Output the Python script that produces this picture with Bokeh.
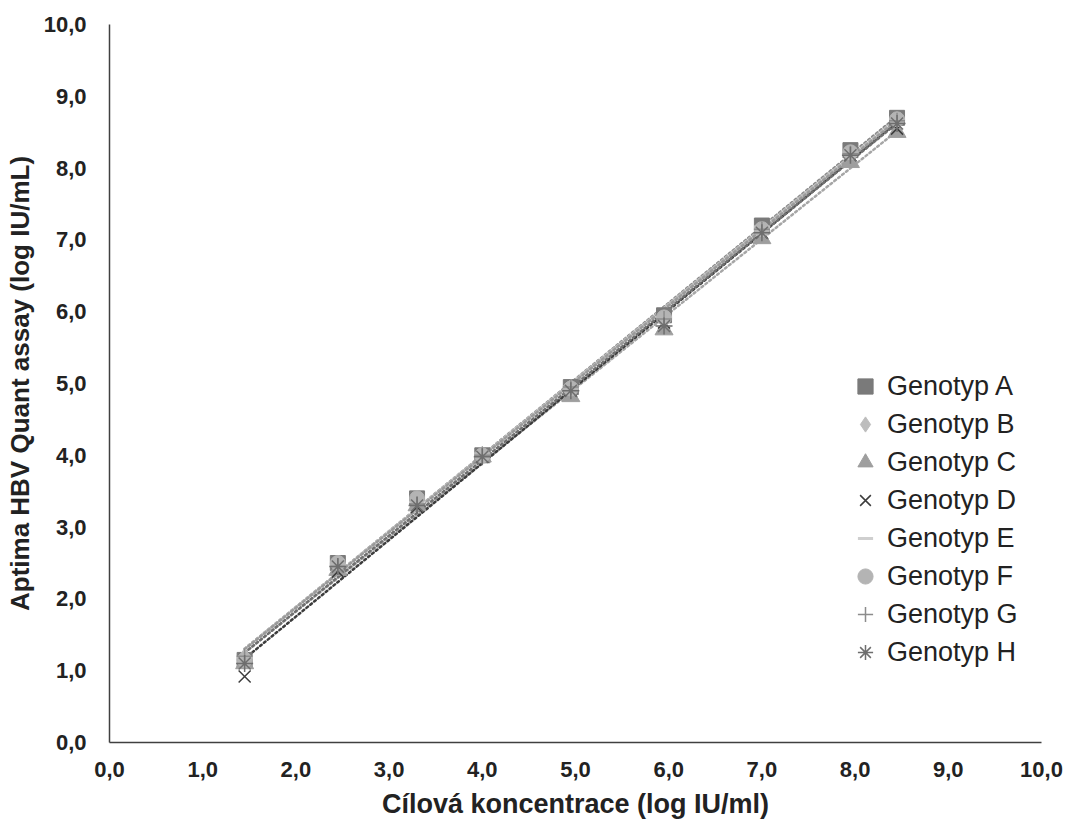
import numpy as np
from bokeh.plotting import figure
from bokeh.models import Legend, LegendItem, FixedTicker
from bokeh.embed import file_html
from bokeh.resources import INLINE

# ---- data ----
concentration = [1.45, 2.45, 3.3, 4.0, 4.95, 5.95, 7.0, 7.95, 8.45]
genotype_names = ["Genotyp A", "Genotyp B", "Genotyp C", "Genotyp D",
                  "Genotyp E", "Genotyp F", "Genotyp G", "Genotyp H"]
geno_a = [1.15, 2.50, 3.40, 4.00, 4.95, 5.95, 7.20, 8.25, 8.70]
geno_b = [1.20, 2.45, 3.35, 4.00, 4.95, 5.90, 7.15, 8.20, 8.65]
geno_c = [1.10, 2.40, 3.30, 3.98, 4.82, 5.75, 7.02, 8.08, 8.50]
geno_d = [0.92, 2.38, 3.28, 3.98, 4.90, 5.85, 7.10, 8.18, 8.55]
geno_e = [1.18, 2.48, 3.35, 4.02, 4.95, 5.92, 7.18, 8.22, 8.68]
geno_f = [1.15, 2.50, 3.40, 4.00, 4.93, 5.92, 7.15, 8.22, 8.68]
geno_g = [1.20, 2.45, 3.32, 4.00, 4.95, 5.90, 7.15, 8.20, 8.66]
geno_h = [1.10, 2.45, 3.30, 3.98, 4.90, 5.80, 7.10, 8.18, 8.62]
tick_values = [0, 1, 2, 3, 4, 5, 6, 7, 8, 9, 10]
tick_labels = ["0,0", "1,0", "2,0", "3,0", "4,0", "5,0", "6,0", "7,0", "8,0", "9,0", "10,0"]

series = [geno_a, geno_b, geno_c, geno_d, geno_e, geno_f, geno_g, geno_h]
markers = ["square", "diamond", "triangle", "x", "dash", "circle", "cross", "asterisk"]
colors = ["#7a7a7a", "#bdbdbd", "#9e9e9e", "#3c3c3c", "#cfcfcf", "#b4b4b4", "#8c8c8c", "#6e6e6e"]
line_colors = ["#8a8a8a", "#bdbdbd", "#a6a6a6", "#3c3c3c", "#c8c8c8", "#b4b4b4", "#9a9a9a", "#707070"]
sizes = [15, 16, 18, 17, 16, 15, 16, 17]

FONT = "Liberation Sans"

p = figure(width=1076, height=823, x_range=(0, 10), y_range=(0, 10),
           output_backend="svg", toolbar_location=None,
           min_border_left=109, min_border_right=35,
           min_border_top=24, min_border_bottom=81)
p.outline_line_color = None
p.xgrid.visible = False
p.ygrid.visible = False

xs = np.array(concentration)
items = []
for name, ys, mk, col, lc, sz in zip(genotype_names, series, markers, colors, line_colors, sizes):
    ys = np.array(ys)
    k, b = np.polyfit(xs, ys, 1)
    p.line([xs.min(), xs.max()], [k * xs.min() + b, k * xs.max() + b],
           line_color=lc, line_width=2.5, line_dash="2 3", line_cap="round")

for name, ys, mk, col, lc, sz in zip(genotype_names, series, markers, colors, line_colors, sizes):
    lw = 1.5 if mk in ("x", "cross", "asterisk") else (3 if mk == "dash" else 1)
    r = p.scatter(concentration, ys, marker=mk, size=sz, fill_color=col,
                  line_color=col, line_width=lw)
    items.append(LegendItem(label=name, renderers=[r]))

legend = Legend(items=items, location=(737, 71), orientation="vertical",
                label_text_font=FONT, label_text_font_size="27px",
                label_text_color="#222222", border_line_color=None,
                background_fill_alpha=0, padding=0, margin=0,
                glyph_width=38, glyph_height=38, label_height=38,
                label_standoff=3, spacing=0)
p.add_layout(legend)

for ax in (p.xaxis[0], p.yaxis[0]):
    ax.ticker = FixedTicker(ticks=tick_values)
    ax.major_label_overrides = {v: s for v, s in zip(tick_values, tick_labels)}
    ax.major_tick_line_color = None
    ax.minor_tick_line_color = None
    ax.axis_line_color = "#404040"
    ax.axis_line_width = 1.5
    ax.major_label_text_font = FONT
    ax.major_label_text_font_size = "22px"
    ax.major_label_text_font_style = "bold"
    ax.major_label_text_color = "#222222"
    ax.axis_label_text_font = FONT
    ax.axis_label_text_font_style = "bold"
    ax.axis_label_text_color = "#222222"

p.xaxis.axis_label = "Cílová koncentrace (log IU/ml)"
p.yaxis.axis_label = "Aptima HBV Quant assay (log IU/mL)"
p.xaxis.axis_label_text_font_size = "27px"
p.yaxis.axis_label_text_font_size = "26px"
p.xaxis.major_label_standoff = 13
p.yaxis.major_label_standoff = 17
p.xaxis.axis_label_standoff = 9
p.yaxis.axis_label_standoff = 6

open("out.html", "w").write(file_html(p, INLINE))
